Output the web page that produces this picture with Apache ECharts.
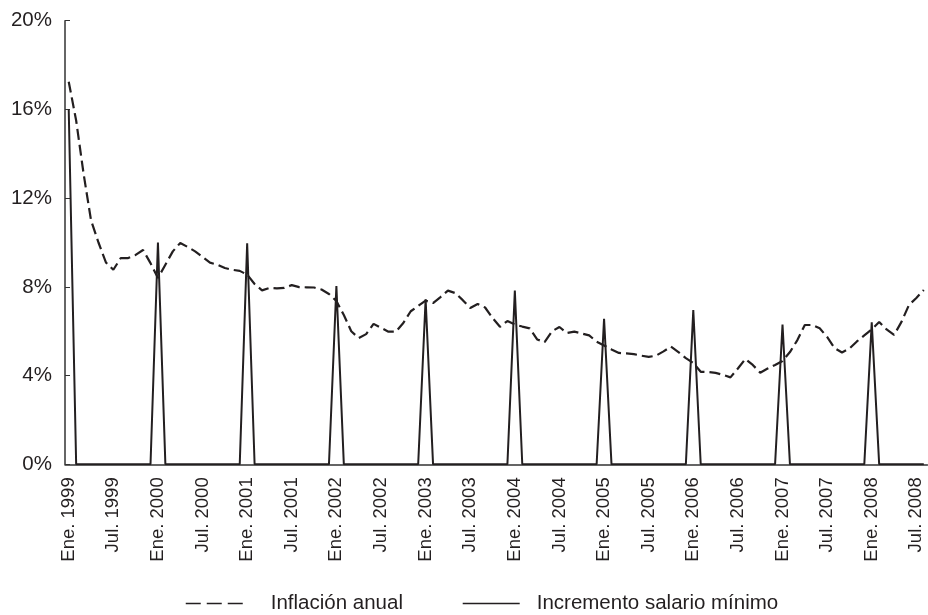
<!DOCTYPE html>
<html>
<head>
<meta charset="utf-8">
<script src="https://cdn.jsdelivr.net/npm/echarts@6/dist/echarts.min.js"></script>
<style>
html,body{margin:0;padding:0;background:#fff;}
#chart{width:928px;height:615px;}
</style>
</head>
<body>
<div id="chart"></div>
<script>
// Month labels (tick labels)
var meses = ['Ene.','Feb.','Mar.','Abr.','May.','Jun.','Jul.','Ago.','Sep.','Oct.','Nov.','Dic.'];
var anios = [1999,2000,2001,2002,2003,2004,2005,2006,2007,2008];
var nMeses = 116; // Ene. 1999 .. Ago. 2008

// Inflación anual (%), monthly
var inflacion = [
  17.25, 15.5, 13.1, 11.0, 10.0, 9.1, 8.77, 9.3, 9.3, 9.44, 9.66, 9.07,
  8.4, 9.0, 9.6, 9.98, 9.8, 9.6, 9.35, 9.09, 9.0, 8.85, 8.77, 8.72,
  8.55, 8.13, 7.84, 7.95, 7.93, 7.95, 8.08, 7.99, 7.98, 7.97, 7.88, 7.68,
  7.36, 6.73, 6.0, 5.69, 5.87, 6.33, 6.15, 5.98, 5.98, 6.37, 6.9, 7.14,
  7.38, 7.27, 7.54, 7.83, 7.72, 7.4, 7.05, 7.23, 7.07, 6.6, 6.2, 6.46,
  6.3, 6.21, 6.13, 5.63, 5.51, 6.0, 6.19, 5.92, 5.98, 5.9, 5.81, 5.53,
  5.36, 5.18, 5.02, 5.0, 4.97, 4.9, 4.84, 4.9, 5.09, 5.31, 5.06, 4.79,
  4.57, 4.17, 4.16, 4.12, 4.03, 3.92, 4.32, 4.75, 4.48, 4.13, 4.32, 4.48,
  4.66, 5.06, 5.6, 6.28, 6.28, 6.13, 5.74, 5.24, 5.04, 5.22, 5.54, 5.81,
  6.08, 6.42, 6.08, 5.83, 6.42, 7.18, 7.5, 7.86
];

// Incremento salario mínimo (%), monthly (only January has a value)
var salario = [
  16.01, 0,0,0,0,0,0,0,0,0,0,0,
  10.0, 0,0,0,0,0,0,0,0,0,0,0,
  9.96, 0,0,0,0,0,0,0,0,0,0,0,
  8.04, 0,0,0,0,0,0,0,0,0,0,0,
  7.44, 0,0,0,0,0,0,0,0,0,0,0,
  7.83, 0,0,0,0,0,0,0,0,0,0,0,
  6.56, 0,0,0,0,0,0,0,0,0,0,0,
  6.95, 0,0,0,0,0,0,0,0,0,0,0,
  6.3, 0,0,0,0,0,0,0,0,0,0,0,
  6.4, 0,0,0,0,0,0,0
];

var yTicks = [0, 4, 8, 12, 16, 20];

var categorias = [];
for (var k = 0; k < nMeses; k++) {
  categorias.push(meses[k % 12] + ' ' + anios[Math.floor(k / 12)]);
}

var ink = '#231f20';
var fontFam = '"Liberation Sans", Arial, sans-serif';

var chart = echarts.init(document.getElementById('chart'), null, {renderer: 'canvas'});
chart.setOption({
  animation: false,
  backgroundColor: '#fff',
  grid: {left: 65, top: 20.7, width: 862.5, bottom: 150.7, containLabel: false},
  legend: {
    left: 180, top: 588,
    itemWidth: 57, itemHeight: 20,
    itemGap: 59,
    itemStyle: {opacity: 0, color: 'transparent', borderWidth: 0},
    textStyle: {fontFamily: fontFam, fontSize: 20.5, color: ink},
    data: [
      {
        name: 'Inflación anual',
        lineStyle: {type: [15, 6], width: 1.5, color: ink},
        textStyle: {padding: [0, 0, 0, 23]}
      },
      {
        name: 'Incremento salario mínimo',
        lineStyle: {type: 'solid', width: 1.5, color: ink},
        textStyle: {padding: [0, 0, 0, 12]}
      }
    ]
  },
  xAxis: {
    type: 'category',
    data: categorias,
    boundaryGap: true,
    axisLine: {lineStyle: {color: '#333', width: 1.5}},
    axisTick: {inside: true, length: 5, interval: 5, alignWithLabel: false, lineStyle: {color: '#333', width: 1}},
    axisLabel: {interval: 5, rotate: 90, margin: 13, fontFamily: fontFam, fontSize: 18.5, color: ink},
    splitLine: {show: false}
  },
  yAxis: {
    type: 'value',
    min: 0, max: 20, interval: 4,
    axisLine: {show: true, lineStyle: {color: '#333', width: 1.5}},
    axisTick: {show: true, inside: true, length: 5, lineStyle: {color: '#333', width: 1}},
    axisLabel: {margin: 13, fontFamily: fontFam, fontSize: 20.5, color: ink,
      formatter: function (v) { return yTicks.indexOf(v) >= 0 ? v + '%' : ''; }},
    splitLine: {show: false}
  },
  series: [
    {
      name: 'Inflación anual',
      type: 'line',
      data: inflacion,
      symbol: 'none',
      lineStyle: {type: [11, 5], width: 2.2, color: ink},
      itemStyle: {color: ink},
      z: 3
    },
    {
      name: 'Incremento salario mínimo',
      type: 'line',
      data: salario,
      symbol: 'none',
      lineStyle: {type: 'solid', width: 2, color: ink},
      itemStyle: {color: ink},
      z: 4
    }
  ]
});
</script>
</body>
</html>
